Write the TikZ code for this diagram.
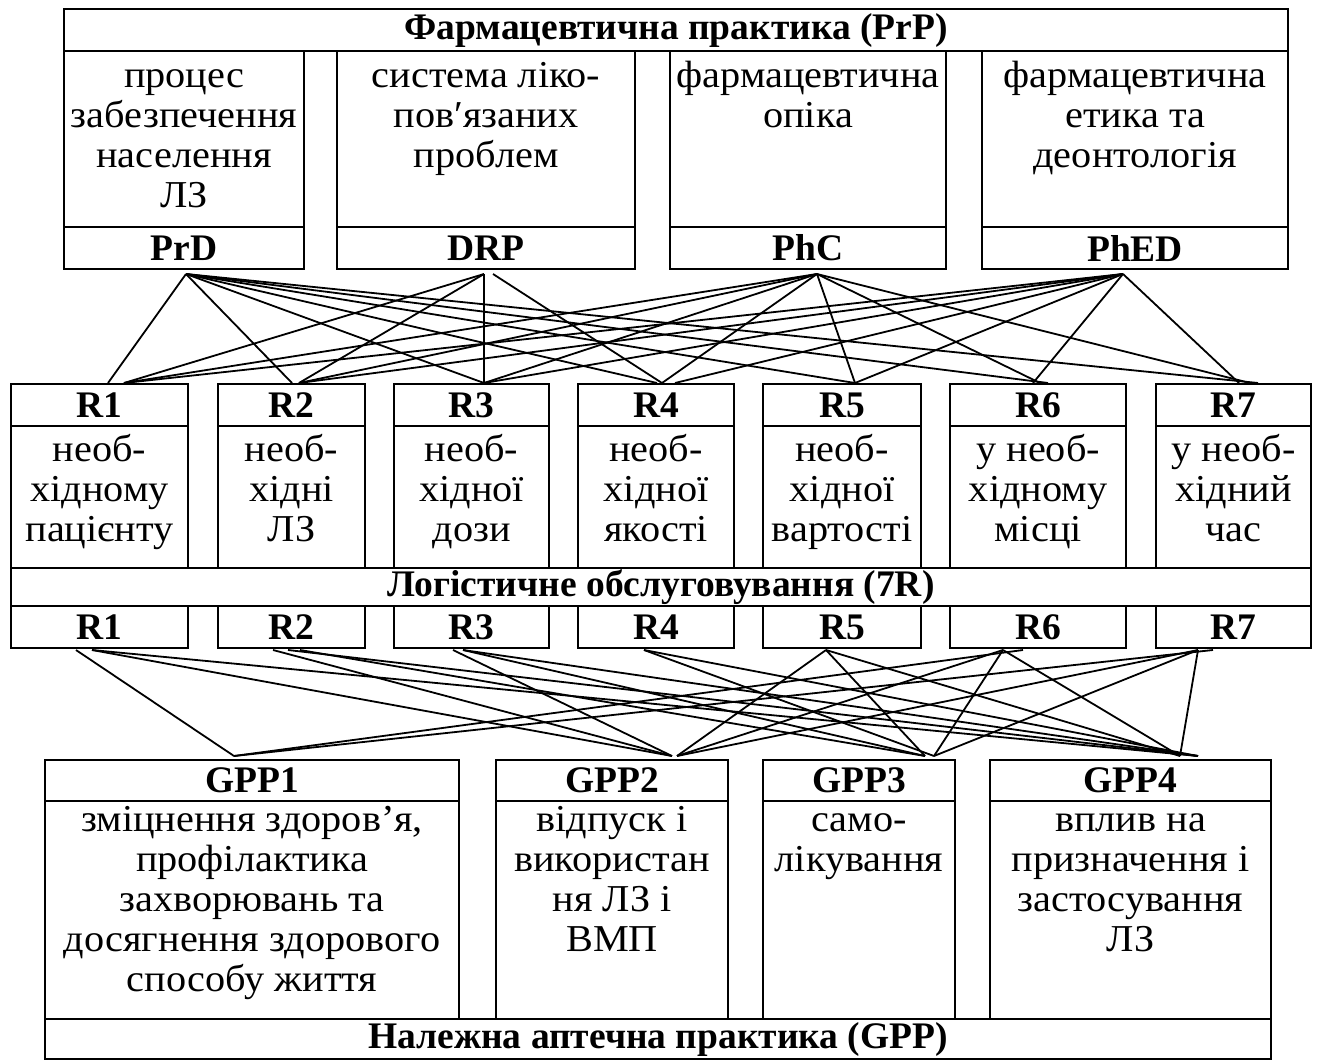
\documentclass[tikz,border=0pt]{standalone}
\usepackage{fontspec}
\setmainfont{Liberation Serif}
\newfontfamily\widefont{Liberation Serif}[FakeStretch=1.06]
\begin{document}
\begin{tikzpicture}[x=1pt,y=-1pt,
  cell/.style={draw, line width=2.2pt, inner sep=0pt},
  cellat/.style n args={4}{cell, anchor=north west, at={(#1,#2)},
     minimum width={(#3-#1)*1pt}, minimum height={(#4-#2)*1pt}},
  hd/.style={font=\fontsize{37.5}{40}\selectfont\bfseries},
  txt/.style={font=\fontsize{38}{40}\widefont, align=center, inner sep=0pt, anchor=north},
  link/.style={line width=1.8pt}]
\useasboundingbox[fill=white] (0,0) rectangle (1318,1063);

% ---------- top block ----------
\node[cellat={63}{8}{1287}{50}, hd] (prp) {Фармацевтична практика (PrP)};
\node[cellat={63}{50}{303}{226}] (prdc) {};
\node[cellat={63}{226}{303}{268}, hd] (prd) {PrD};
\node[cellat={336}{50}{634}{226}] (drpc) {};
\node[cellat={336}{226}{634}{268}, hd] (drp) {DRP};
\node[cellat={669}{50}{945}{226}] (phcc) {};
\node[cellat={669}{226}{945}{268}, hd] (phc) {PhC};
\node[cellat={981}{50}{1287}{226}] (phedc) {};
\node[cellat={981}{226}{1287}{268}, hd] (phed) {PhED};

\node[txt] (prdt) at ([yshift=-9pt]prdc.north) {\strut процес\\забезпечення\\населення\\ЛЗ};
\node[txt] (drpt) at ([yshift=-9pt]drpc.north) {\strut система ліко-\\пов′язаних\\проблем};
\node[txt] (phct) at ([yshift=-9pt]phcc.north) {\strut фармацевтична\\опіка};
\node[txt] (phedt) at ([yshift=-9pt]phedc.north) {\strut фармацевтична\\етика та\\деонтологія};

% ---------- R block ----------
\node[cellat={10}{383}{187}{425}, hd] (ra1) {R1};
\node[cellat={217}{383}{364}{425}, hd] (ra2) {R2};
\node[cellat={393}{383}{548}{425}, hd] (ra3) {R3};
\node[cellat={577}{383}{733}{425}, hd] (ra4) {R4};
\node[cellat={762}{383}{920}{425}, hd] (ra5) {R5};
\node[cellat={949}{383}{1125}{425}, hd] (ra6) {R6};
\node[cellat={1155}{383}{1310}{425}, hd] (ra7) {R7};

\node[cellat={10}{425}{187}{567}] (rc1) {};
\node[cellat={217}{425}{364}{567}] (rc2) {};
\node[cellat={393}{425}{548}{567}] (rc3) {};
\node[cellat={577}{425}{733}{567}] (rc4) {};
\node[cellat={762}{425}{920}{567}] (rc5) {};
\node[cellat={949}{425}{1125}{567}] (rc6) {};
\node[cellat={1155}{425}{1310}{567}] (rc7) {};

\node[txt] (rt1) at ([yshift=-8pt]rc1.north) {\strut необ-\\хідному\\пацієнту};
\node[txt] (rt2) at ([yshift=-8pt]rc2.north) {\strut необ-\\хідні\\ЛЗ};
\node[txt] (rt3) at ([yshift=-8pt]rc3.north) {\strut необ-\\хідної\\дози};
\node[txt] (rt4) at ([yshift=-8pt]rc4.north) {\strut необ-\\хідної\\якості};
\node[txt] (rt5) at ([yshift=-8pt]rc5.north) {\strut необ-\\хідної\\вартості};
\node[txt] (rt6) at ([yshift=-8pt]rc6.north) {\strut у необ-\\хідному\\місці};
\node[txt] (rt7) at ([yshift=-8pt]rc7.north) {\strut у необ-\\хідний\\час};

\node[cellat={10}{567}{1310}{605}, hd] (log) {Логістичне обслуговування (7R)};

\node[cellat={10}{605}{187}{647}, hd] (rb1) {R1};
\node[cellat={217}{605}{364}{647}, hd] (rb2) {R2};
\node[cellat={393}{605}{548}{647}, hd] (rb3) {R3};
\node[cellat={577}{605}{733}{647}, hd] (rb4) {R4};
\node[cellat={762}{605}{920}{647}, hd] (rb5) {R5};
\node[cellat={949}{605}{1125}{647}, hd] (rb6) {R6};
\node[cellat={1155}{605}{1310}{647}, hd] (rb7) {R7};

% ---------- GPP block ----------
\node[cellat={44}{759}{458}{800}, hd] (g1) {GPP1};
\node[cellat={495}{759}{727}{800}, hd] (g2) {GPP2};
\node[cellat={762}{759}{954}{800}, hd] (g3) {GPP3};
\node[cellat={989}{759}{1270}{800}, hd] (g4) {GPP4};
\node[cellat={44}{800}{458}{1018}] (gc1) {};
\node[cellat={495}{800}{727}{1018}] (gc2) {};
\node[cellat={762}{800}{954}{1018}] (gc3) {};
\node[cellat={989}{800}{1270}{1018}] (gc4) {};
\node[cellat={44}{1018}{1270}{1058}, hd] (gpp) {Належна аптечна практика (GPP)};

\node[txt] (gt1) at ([yshift=-3pt]gc1.north) {\strut зміцнення здоров’я,\\профілактика\\захворювань та\\досягнення здорового\\способу життя};
\node[txt] (gt2) at ([yshift=-3pt]gc2.north) {\strut відпуск і\\використан\\ня ЛЗ і\\ВМП};
\node[txt] (gt3) at ([yshift=-3pt]gc3.north) {\strut само-\\лікування};
\node[txt] (gt4) at ([yshift=-3pt]gc4.north) {\strut вплив на\\призначення і\\застосування\\ЛЗ};

% ---------- connector end points ----------
\coordinate (sPrD) at (186,274);
\coordinate (sDRP) at (484,274);
\coordinate (sDRPb) at (493,274);
\coordinate (sPhC) at (817,274);
\coordinate (sPhED) at (1123,274);

\coordinate (tR1a) at (108,383);  \coordinate (tR1b) at (124,383);
\coordinate (tR2a) at (292,383);  \coordinate (tR2b) at (299,383);
\coordinate (tR3) at (484,383);
\coordinate (tR4a) at (657,383);  \coordinate (tR4b) at (662,383); \coordinate (tR4c) at (675,383);
\coordinate (tR5) at (855,383);
\coordinate (tR6a) at (1033,383); \coordinate (tR6b) at (1040,383); \coordinate (tR6c) at (1048,383);
\coordinate (tR7a) at (1239,383); \coordinate (tR7b) at (1250,383); \coordinate (tR7c) at (1258,383);

\coordinate (bR1a) at (76,650);   \coordinate (bR1b) at (92,650);
\coordinate (bR2a) at (273,650);  \coordinate (bR2b) at (288,650); \coordinate (bR2c) at (300,650);
\coordinate (bR3a) at (453,650);  \coordinate (bR3b) at (463,650);
\coordinate (bR4) at (644,650);
\coordinate (bR5) at (826,650);
\coordinate (bR6a) at (1003,650); \coordinate (bR6b) at (1023,650);
\coordinate (bR7a) at (1198,650); \coordinate (bR7b) at (1213,650);

\coordinate (tG1) at (234,756);
\coordinate (tG2a) at (672,756); \coordinate (tG2b) at (677,756);
\coordinate (tG3a) at (925,756); \coordinate (tG3b) at (934,756);
\coordinate (tG4a) at (1180,756); \coordinate (tG4b) at (1198,756);

% ---------- top connectors ----------
\foreach \t in {tR1a,tR2a,tR3,tR4a,tR5,tR6c,tR7c} \draw[link] (sPrD) -- (\t);
\foreach \t in {tR1b,tR2b,tR3} \draw[link] (sDRP) -- (\t);
\draw[link] (sDRPb) -- (tR4b);
\foreach \t in {tR1b,tR2b,tR3,tR4b,tR5,tR6b,tR7b} \draw[link] (sPhC) -- (\t);
\foreach \t in {tR1b,tR2b,tR3,tR4c,tR5,tR6a,tR7a} \draw[link] (sPhED) -- (\t);

% ---------- bottom connectors ----------
\draw[link] (bR1a) -- (tG1);
\draw[link] (bR1b) -- (tG2a);
\draw[link] (bR1b) -- (tG4b);
\draw[link] (bR2a) -- (tG2a);
\draw[link] (bR2b) -- (tG4b);
\draw[link] (bR2c) -- (tG3a);
\draw[link] (bR3a) -- (tG2a);
\draw[link] (bR3b) -- (tG3a);
\draw[link] (bR3b) -- (tG4b);
\draw[link] (bR4) -- (tG3b);
\draw[link] (bR4) -- (tG4b);
\draw[link] (bR5) -- (tG2b);
\draw[link] (bR5) -- (tG3a);
\draw[link] (bR5) -- (tG4a);
\draw[link] (bR6a) -- (tG2b);
\draw[link] (bR6a) -- (tG3b);
\draw[link] (bR6a) -- (tG4a);
\draw[link] (bR6b) -- (tG1);
\draw[link] (bR7a) -- (tG2b);
\draw[link] (bR7a) -- (tG3b);
\draw[link] (bR7a) -- (tG4a);
\draw[link] (bR7b) -- (tG1);
\end{tikzpicture}
\end{document}
